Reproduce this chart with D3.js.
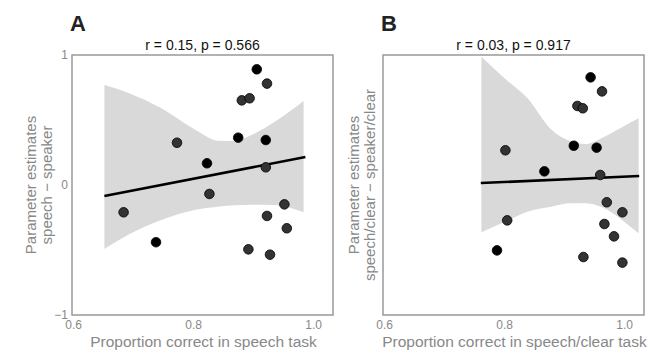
<!DOCTYPE html>
<html>
<head>
<meta charset="utf-8">
<script src="https://cdn.jsdelivr.net/npm/d3@7"></script>
<style>
  body { margin: 0; background: #fff; }
  svg { display: block; font-family: "Liberation Sans", Arial, sans-serif; }
</style>
</head>
<body>
<div id="chart"></div>
<script>
// panel A: speech task
const speechX = [0.684, 0.738, 0.773, 0.823, 0.827, 0.875, 0.881, 0.894, 0.892, 0.906, 0.923, 0.921, 0.921, 0.923, 0.928, 0.952, 0.956]
const speechY = [-0.21, -0.44, 0.325, 0.167, -0.069, 0.364, 0.651, 0.667, -0.495, 0.89, 0.78, 0.346, 0.136, -0.238, -0.536, -0.149, -0.333]
const speechGroup = [0, 1, 0, 1, 0, 1, 0, 0, 0, 1, 0, 1, 0, 0, 0, 0, 0]
const speechFitX = [0.652, 0.987]
const speechFitY = [-0.085, 0.215]
const speechBandX = [0.652, 0.691, 0.747, 0.802, 0.841, 0.869, 0.897, 0.936, 0.984]
const speechBandLo = [-0.492, -0.385, -0.269, -0.192, -0.167, -0.156, -0.151, -0.154, -0.21]
const speechBandHi = [0.769, 0.71, 0.59, 0.428, 0.341, 0.338, 0.385, 0.487, 0.646]

// panel B: speech/clear task
const clearX = [0.802, 0.805, 0.788, 0.867, 0.916, 0.922, 0.931, 0.944, 0.963, 0.954, 0.96, 0.971, 0.997, 0.967, 0.983, 0.932, 0.997]
const clearY = [0.267, -0.272, -0.503, 0.105, 0.302, 0.608, 0.59, 0.828, 0.72, 0.287, 0.077, -0.133, -0.21, -0.3, -0.395, -0.554, -0.597]
const clearGroup = [0, 0, 1, 1, 1, 0, 0, 1, 0, 1, 0, 0, 0, 0, 0, 0, 0]
const clearFitX = [0.761, 1.025]
const clearFitY = [0.015, 0.069]
const clearBandX = [0.762, 0.801, 0.839, 0.878, 0.911, 0.934, 0.967, 1.0, 1.024]
const clearBandLo = [-0.364, -0.282, -0.205, -0.167, -0.141, -0.141, -0.179, -0.282, -0.372]
const clearBandHi = [0.987, 0.82, 0.667, 0.428, 0.336, 0.315, 0.372, 0.454, 0.513]

const xTicks = [0.6, 0.8, 1.0]
const yTicks = [-1, 0, 1]

let width = 656
let height = 354

let svg = d3.select('#chart').append('svg')
  .attr('width', width)
  .attr('height', height)

let pointColor = d3.scaleOrdinal().domain([0, 1]).range(['#333333', '#000000'])

function drawPanel(p) {
  let x = d3.scaleLinear().domain([0.598, 1.033]).range([p.left, p.left + 261])
  let y = d3.scaleLinear().domain([-1, 1]).range([315, 55])
  let g = svg.append('g')

  // confidence band
  let band = p.bandX.map((v, i) => [v, p.bandLo[i], p.bandHi[i]])
  g.append('path')
    .datum(band)
    .attr('fill', '#d9d9d9')
    .attr('d', d3.area()
      .curve(d3.curveMonotoneX)
      .x(d => x(d[0]))
      .y0(d => y(d[1]))
      .y1(d => y(d[2])))

  // regression line
  g.append('path')
    .datum(p.fitX.map((v, i) => [v, p.fitY[i]]))
    .attr('fill', 'none')
    .attr('stroke', '#000')
    .attr('stroke-width', 2.6)
    .attr('d', d3.line().x(d => x(d[0])).y(d => y(d[1])))

  g.selectAll('circle')
    .data(p.xs.map((v, i) => ({ x: v, y: p.ys[i], grp: p.grp[i] })))
    .enter()
    .append('circle')
    .attr('cx', d => x(d.x))
    .attr('cy', d => y(d.y))
    .attr('r', 4.8)
    .attr('fill', d => pointColor(d.grp))
    .attr('stroke', '#000')
    .attr('stroke-width', 0.8)

  // frame
  g.append('rect')
    .attr('x', x.range()[0])
    .attr('y', 55)
    .attr('width', x.range()[1] - x.range()[0])
    .attr('height', 260)
    .attr('fill', 'none')
    .attr('stroke', '#999')
    .attr('stroke-width', 1.5)

  let xAxis = g.append('g')
    .attr('transform', 'translate(0,316)')
    .call(d3.axisBottom(x).tickValues(xTicks).tickSize(0).tickPadding(4).tickFormat(d3.format('.1f')))
  xAxis.select('.domain').remove()
  xAxis.selectAll('text').attr('fill', '#888').style('font-size', '12px')

  if (p.showY) {
    let yAxis = g.append('g')
      .attr('transform', `translate(${p.left - 4},0)`)
      .call(d3.axisLeft(y).tickValues(yTicks).tickSize(0).tickPadding(0).tickFormat(d => d < 0 ? '\u2212' + Math.abs(d) : d))
    yAxis.select('.domain').remove()
    yAxis.selectAll('text').attr('fill', '#888').style('font-size', '12px')
  }

  // titles and labels
  let cx = (x.range()[0] + x.range()[1]) / 2
  g.append('text')
    .attr('x', cx).attr('y', 50)
    .attr('text-anchor', 'middle')
    .style('font-size', '14px')
    .attr('fill', '#111')
    .text(p.title)

  g.append('text')
    .attr('x', p.left - 2).attr('y', 31)
    .style('font-size', '22px')
    .style('font-weight', 'bold')
    .attr('fill', '#222')
    .text(p.letter)

  g.append('text')
    .attr('x', cx + 1).attr('y', 347)
    .attr('text-anchor', 'middle')
    .style('font-size', '15.5px')
    .attr('fill', '#888')
    .text(p.xLabel)

  p.yLabel.forEach((line, i) => {
    g.append('text')
      .attr('transform', `translate(${p.yLabelX + i * 16},185) rotate(-90)`)
      .attr('text-anchor', 'middle')
      .style('font-size', '15px')
      .attr('fill', '#888')
      .text(line)
  })
}

drawPanel({
  left: 72, showY: true, letter: 'A', title: 'r = 0.15, p = 0.566',
  xs: speechX, ys: speechY, grp: speechGroup,
  fitX: speechFitX, fitY: speechFitY,
  bandX: speechBandX, bandLo: speechBandLo, bandHi: speechBandHi,
  xLabel: 'Proportion correct in speech task',
  yLabel: ['Parameter estimates', 'speech \u2212 speaker'], yLabelX: 36
})

drawPanel({
  left: 383, showY: false, letter: 'B', title: 'r = 0.03, p = 0.917',
  xs: clearX, ys: clearY, grp: clearGroup,
  fitX: clearFitX, fitY: clearFitY,
  bandX: clearBandX, bandLo: clearBandLo, bandHi: clearBandHi,
  xLabel: 'Proportion correct in speech/clear task',
  yLabel: ['Parameter estimates', 'speech/clear \u2212 speaker/clear'], yLabelX: 359
})
</script>
</body>
</html>
